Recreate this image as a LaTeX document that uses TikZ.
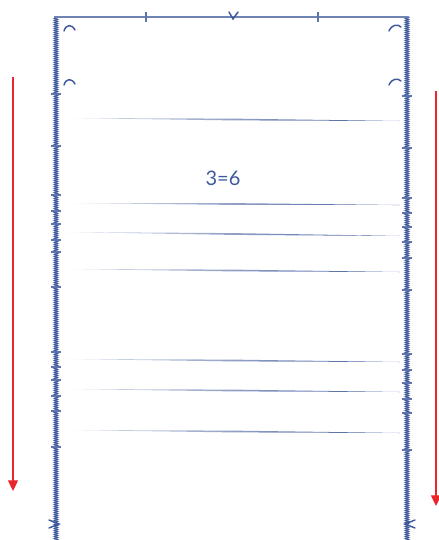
\documentclass[tikz,border=0pt]{standalone}
\usepackage{fontspec}
\setmainfont{Lato}
\usetikzlibrary{arrows.meta,decorations.pathmorphing}
\definecolor{planblue}{HTML}{3F5A9C}
\definecolor{planred}{HTML}{E8262C}

\begin{document}
\begin{tikzpicture}[x=0.75pt,y=-0.75pt,
  wall/.style={draw=planblue!45, line width=3.4pt},
  wallhatch/.style={draw=planblue, line width=0.55pt, decorate,
    decoration={zigzag, amplitude=1.4pt, segment length=1.5pt}},
  walltick/.style={draw=planblue!85, line width=0.9pt},
  swingmark/.style={draw=planblue, line width=1.1pt, line cap=round},
  flowarrow/.style={draw=planred, line width=0.9pt, -{Triangle[width=7.5pt,length=8pt]}},
]
\useasboundingbox (0,0) rectangle (439,540);
% walls
\draw[wall] (56,17) -- (56,540);
\draw[wallhatch] (56,17) -- (56,540);
\draw[wall] (407,17) -- (407,540);
\draw[wallhatch] (407,17) -- (407,540);
\draw[planblue!75, line width=1.6pt] (54,17) -- (409,17);
\foreach \x in {146,318} {
  \draw[walltick] (\x,12) -- (\x,22);
}
\draw[swingmark] (229,12) -- (233,19) -- (238,12);

\foreach \y in {94,146,195,211,224,240,252,287,352,367,380,396,411,447} {
  \draw[walltick] (51,\y) -- (61,\y);
}
\foreach \y in {96,148,198,213,227,242,258,290,354,370,383,399,413,450} {
  \draw[walltick] (402,\y) -- (412,\y);
}

% swing marks near the corners
\foreach \y in {0,54} {
  \draw[swingmark] (64,31+\y) .. controls (66,24+\y) and (72,24+\y) .. (75,30+\y);
  \draw[swingmark] (389,31+\y) .. controls (392,24+\y) and (398,24+\y) .. (401,27+\y);
}
\draw[swingmark] (49,520) -- (59,524) -- (49,528);
\draw[swingmark] (415,520) -- (405,524) -- (415,528);

% treads
\foreach \ya/\yb in {118/121,203/205,232/236,269/272,359/362,389/392,430/433} {
  \shade[left color=planblue!15, right color=planblue]
    (66,\ya) -- (233,{(\ya+\yb)/2-0.9}) -- (400,\yb) -- (233,{(\ya+\yb)/2+0.9}) -- cycle;
}

\node[text=planblue, font=\fontsize{15}{18}\selectfont] (stairlabel) at (223,178) {3=6};

% direction of travel
\coordinate (leftstart) at (13,77);
\coordinate (leftend) at (13,491);
\coordinate (rightstart) at (436,91);
\coordinate (rightend) at (436,506);
\draw[flowarrow] (leftstart) -- (leftend);
\draw[flowarrow] (rightstart) -- (rightend);
\end{tikzpicture}
\end{document}
